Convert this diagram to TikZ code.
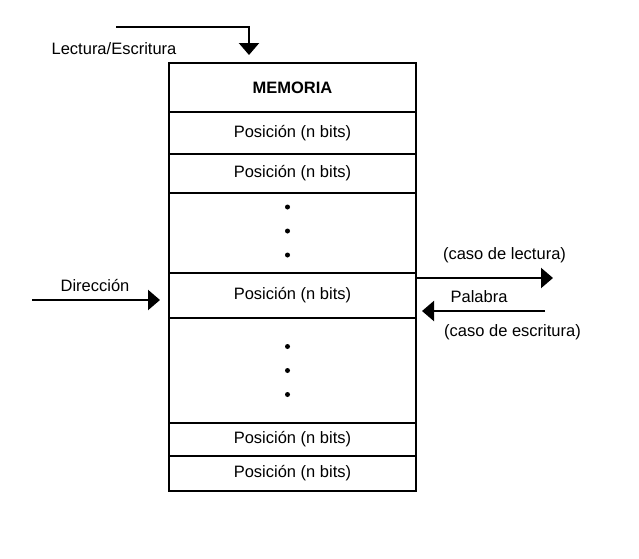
\documentclass[tikz,border=0pt]{standalone}
\usepackage{fontspec}
\setmainfont{Liberation Sans}
\usepackage{tikz}
\usetikzlibrary{positioning}
\usetikzlibrary{arrows.meta}
\tikzset{
  cell/.style = {draw=black, line width=1.8pt, minimum width=247pt,
    inner sep=0pt, outer sep=0pt, align=center,
    font=\fontsize{16.5}{20}\selectfont},
  head_cell/.style = {cell, minimum height=49pt,
    font=\fontsize{16.5}{20}\selectfont\bfseries},
  label_node/.style = {inner sep=0pt, font=\fontsize{16.5}{20}\selectfont},
  signal/.style = {line width=2.2pt, -{Triangle[length=12pt,width=20pt]}},
  dot_node/.style = {circle, fill=black, inner sep=0pt, minimum size=5pt}
}

\begin{document}
\begin{tikzpicture}[x=1pt, y=-1pt]
  \useasboundingbox (0,0) rectangle (639,558);
  % memory cells
  \node [head_cell] (mem) at (292.5,87.5) {MEMORIA};
  \node [cell, minimum height=42pt, below=0pt of mem] (pos1) {Posición (n bits)};
  \node [cell, minimum height=39pt, below=0pt of pos1] (pos2) {Posición (n bits)};
  \node [cell, minimum height=80pt, below=0pt of pos2] (gapA) {};
  \node [cell, minimum height=45pt, below=0pt of gapA] (posX) {Posición (n bits)};
  \node [cell, minimum height=105pt, below=0pt of posX] (gapB) {};
  \node [cell, minimum height=33pt, below=0pt of gapB] (pos3) {Posición (n bits)};
  \node [cell, minimum height=35pt, below=0pt of pos3] (pos4) {Posición (n bits)};
  \draw [line width=2.6pt] (mem.north west) rectangle (pos4.south east);
  % dots
  \foreach \dy [count=\i] in {26,2,-22}{
    \node [dot_node] (dotA\i) at ([xshift=-5pt, yshift=\dy pt]gapA.center) {};
    \node [dot_node] (dotB\i) at ([xshift=-5pt, yshift=\dy pt-2pt]gapB.center) {};
  }
  % signals
  \coordinate (rw_start) at (116,27);
  \coordinate (rw_end) at (249,55);
  \draw [signal] (rw_start) -| (rw_end);
  \node [label_node] (rw_label) at (114,49) {Lectura/Escritura};

  \coordinate (dir_start) at (32,300);
  \draw [signal, shorten >=9pt] (dir_start) -- (dir_start -| posX.west);
  \node [label_node] (dir_label) at (95,285) {Dirección};

  \coordinate (read_end) at (553,278);
  \draw [signal] (read_end -| posX.east) -- (read_end);
  \node [label_node] (read_label) at (504.5,255) {(caso de lectura)};

  \coordinate (write_start) at (545,311);
  \draw [signal, shorten >=6pt] (write_start) -- (write_start -| posX.east);
  \node [label_node] (word_label) at (479,297) {Palabra};
  \node [label_node] (write_label) at (512.5,332) {(caso de escritura)};
\end{tikzpicture}
\end{document}
